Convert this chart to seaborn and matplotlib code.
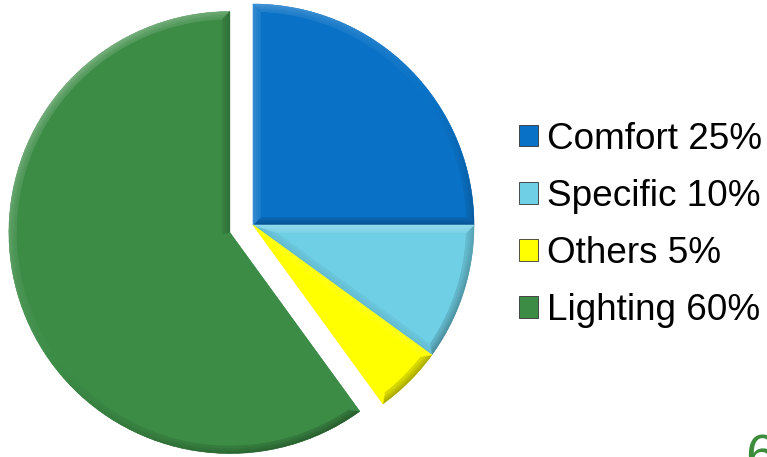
import numpy as np
import matplotlib
matplotlib.use("Agg")
import matplotlib.pyplot as plt
import seaborn as sns
from matplotlib.collections import PolyCollection
from matplotlib.colors import to_rgb

# Energy use breakdown
categories = ["Comfort", "Specific", "Others", "Lighting"]
shares = [25, 10, 5, 60]
colors = ["#0A72C6", "#6FCFE5", "#FFFF00", "#3C8C46"]
explode = [0, 0, 0, 0.11]
page_number = "6"

sns.set_theme(style="white")
plt.rcParams["font.family"] = ["Liberation Sans", "DejaVu Sans"]

W, H, DPI = 767, 457, 100
fig = plt.figure(figsize=(W / DPI, H / DPI), dpi=DPI)
ax = fig.add_axes([0, 0, 1, 1])

wedges, _ = ax.pie(shares, colors=colors, explode=explode, startangle=90,
                   counterclock=False, radius=1.0,
                   wedgeprops=dict(linewidth=0))

# pie centre and radius in pixels
cx_px, cy_px, r_px = 253, 225, 221
ax.set_xlim(-cx_px / r_px, (W - cx_px) / r_px)
ax.set_ylim(-(H - cy_px) / r_px, cy_px / r_px)
ax.set_aspect("equal", adjustable="box")
ax.axis("off")

LIGHT = np.array([-0.6, 0.8])
LIGHT = LIGHT / np.linalg.norm(LIGHT)


def shade(base, normal, depth, amount=0.32):
    """Lighten faces turned to the light, darken the others; stronger near the rim."""
    base = np.array(to_rgb(base))
    k = float(np.dot(normal, LIGHT)) * (0.35 + 0.65 * depth)
    if k >= 0:
        return tuple(base + (1 - base) * amount * k)
    return tuple(base * (1 - amount * 1.1 * (-k)))


def bevel(ax, wedge, base, w=0.034, n=90, bands=4):
    c = np.array(wedge.center, dtype=float)
    r = wedge.r
    t1, t2 = np.radians(wedge.theta1), np.radians(wedge.theta2)
    half = (t2 - t1) / 2
    mid = t1 + half
    u_mid = np.array([np.cos(mid), np.sin(mid)])

    polys, cols = [], []
    for b in range(bands):
        wo, wi = w * b / bands, w * (b + 1) / bands
        depth = 1 - (b + 0.5) / bands

        def ring(off):
            ic = c + (off / np.sin(half)) * u_mid
            ri = r - off

            def hit(t):
                u = np.array([np.cos(t), np.sin(t)])
                v = ic - c
                bb = np.dot(v, u)
                s = -bb + np.sqrt(bb * bb - np.dot(v, v) + ri * ri)
                return ic + s * u

            p1, p2 = hit(t1), hit(t2)
            a1 = np.arctan2(p1[1] - c[1], p1[0] - c[0])
            a2 = np.arctan2(p2[1] - c[1], p2[0] - c[0])
            while a1 < t1 - np.pi:
                a1 += 2 * np.pi
            while a1 > t1 + np.pi:
                a1 -= 2 * np.pi
            while a2 < a1:
                a2 += 2 * np.pi
            ta = np.linspace(a1, a2, n)
            return ic, c + ri * np.c_[np.cos(ta), np.sin(ta)]

        ic_o, outer = ring(wo)
        ic_i, inner = ring(wi)
        for i in range(n - 1):
            polys.append([outer[i], outer[i + 1], inner[i + 1], inner[i]])
            tm = np.arctan2(outer[i, 1] + outer[i + 1, 1] - 2 * c[1],
                            outer[i, 0] + outer[i + 1, 0] - 2 * c[0])
            cols.append(shade(base, np.array([np.cos(tm), np.sin(tm)]), depth))
        n1 = np.array([np.cos(t1 - np.pi / 2), np.sin(t1 - np.pi / 2)])
        n2 = np.array([np.cos(t2 + np.pi / 2), np.sin(t2 + np.pi / 2)])
        polys.append([ic_o, outer[0], inner[0], ic_i])
        cols.append(shade(base, n1, depth))
        polys.append([ic_o, ic_i, inner[-1], outer[-1]])
        cols.append(shade(base, n2, depth))
    pc = PolyCollection(polys, facecolors=cols, edgecolors=cols,
                        linewidths=0.4, zorder=3)
    ax.add_collection(pc)


for wdg, col in zip(wedges, colors):
    bevel(ax, wdg, col)

labels = [f"{c} {s}%" for c, s in zip(categories, shares)]
leg = ax.legend(wedges, labels, loc="center left",
                bbox_to_anchor=(519 / W, 1 - 225 / H),
                bbox_transform=fig.transFigure,
                frameon=False, fontsize=26.6, borderpad=0, borderaxespad=0,
                handlelength=0.52, handleheight=0.52, handletextpad=0.25,
                labelspacing=0.6, labelcolor="black")
for h in leg.legend_handles:
    h.set_edgecolor("#333333")
    h.set_linewidth(0.6)

fig.text(745 / W, -16 / H, page_number, color="#3C8C3C", fontsize=40,
         ha="left", va="baseline")

fig.savefig("out.png", dpi=DPI)
